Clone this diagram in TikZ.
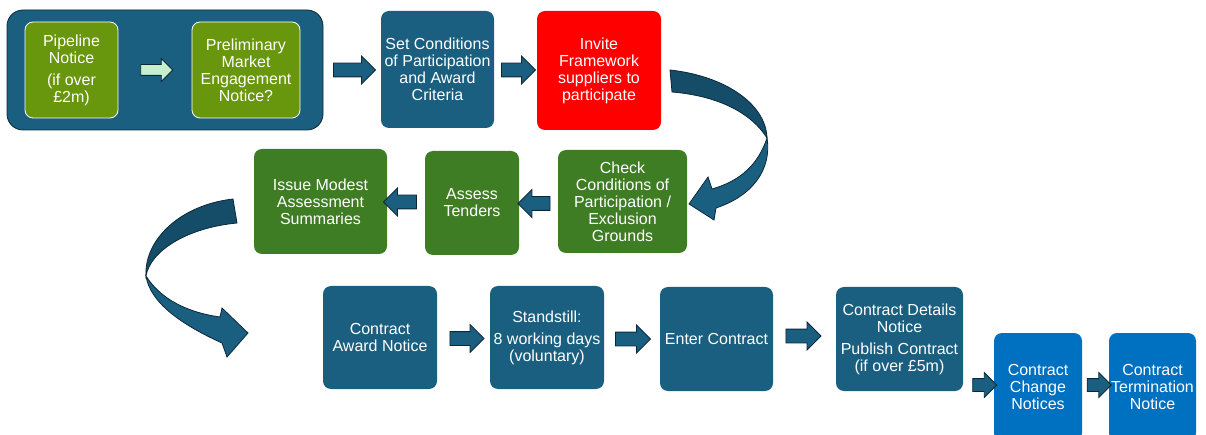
\documentclass[tikz,border=0pt]{standalone}
\usepackage{fontspec}
\setmainfont{Liberation Sans}
\usetikzlibrary{shapes.arrows,positioning}

\definecolor{procblue}{RGB}{26,95,128}
\definecolor{procdark}{RGB}{21,77,105}
\definecolor{procline}{RGB}{12,40,56}
\definecolor{olivegreen}{RGB}{104,150,12}
\definecolor{leafgreen}{RGB}{62,125,35}
\definecolor{brightblue}{RGB}{0,112,192}
\definecolor{mintarr}{RGB}{198,239,206}

\tikzset{
    stepbox/.style={rectangle, rounded corners=8pt, fill=procblue, text=white,
        align=center, inner sep=2pt, font=\fontsize{16}{17}\selectfont},
    blockarr/.style={single arrow, draw=procline, fill=procblue, thick,
        inner xsep=0pt, inner ysep=6.5pt, single arrow head extend=7pt,
        minimum height=34pt},
    leftarr/.style={blockarr, shape border rotate=180},
}

\begin{document}
\begin{tikzpicture}[x=1pt, y=-1pt]
    \useasboundingbox (0,0) rectangle (1206,435);

    % first group
    \node[rectangle, rounded corners=16pt, fill=procblue, draw=procline, thick,
        minimum width=316pt, minimum height=120pt] (frame) at (165,70) {};
    \node[stepbox, fill=olivegreen, draw=white, thick,
        minimum width=93pt, minimum height=96pt] (pipe) at (71.5,70)
        {Pipeline\\Notice\\[5pt](if over\\£2m)};
    \node[stepbox, fill=olivegreen, draw=white, thick,
        minimum width=108pt, minimum height=96pt] (prelim) at (246,70)
        {Preliminary\\Market\\Engagement\\Notice?};
    \node[blockarr, fill=mintarr, inner ysep=5pt, single arrow head extend=6pt,
        minimum height=32pt] (a1) at (154,70) {};

    \node[stepbox, minimum width=113pt, minimum height=117pt] (setcond) at (437.5,69.5)
        {Set Conditions\\of Participation\\and Award\\Criteria};
    \node[stepbox, fill=red, minimum width=124pt, minimum height=119pt] (invite) at (599,70.5)
        {Invite\\Framework\\suppliers to\\participate};
    \node[blockarr, minimum height=42pt] (a2) at (351,70) {};
    \node[blockarr] (a3) at (515,70) {};

    % second row
    \node[stepbox, fill=leafgreen, minimum width=129pt, minimum height=103pt] (check) at (622.5,201.5)
        {Check\\Conditions of\\Participation /\\Exclusion\\Grounds};
    \node[stepbox, fill=leafgreen, minimum width=94pt, minimum height=104pt] (assess) at (472,203)
        {Assess\\Tenders};
    \node[stepbox, fill=leafgreen, minimum width=133pt, minimum height=105pt] (issue) at (320.5,201.5)
        {Issue Modest\\Assessment\\Summaries};
    \node[leftarr, minimum height=32pt] (a4) at (537.5,203.5) {};
    \node[leftarr, minimum height=33pt] (a5) at (403.5,202) {};

    % third row
    \node[stepbox, minimum width=114pt, minimum height=103pt] (award) at (380,337.5)
        {Contract\\Award Notice};
    \node[stepbox, minimum width=114pt, minimum height=103pt] (standstill) at (547,337.5)
        {Standstill:\\[5pt]8 working days\\(voluntary)};
    \node[stepbox, minimum width=113pt, minimum height=104pt] (enter) at (716.5,339)
        {Enter Contract};
    \node[stepbox, minimum width=127pt, minimum height=104pt] (details) at (899.5,339)
        {Contract Details\\Notice\\[5pt]Publish Contract\\(if over £5m)};
    \node[stepbox, fill=brightblue, minimum width=88pt, minimum height=108pt] (change) at (1038,387)
        {Contract\\Change\\Notices};
    \node[stepbox, fill=brightblue, minimum width=87pt, minimum height=108pt] (termination) at (1152.5,387)
        {Contract\\Termination\\Notice};
    \node[blockarr] (a6) at (463.5,338.5) {};
    \node[blockarr, minimum height=35pt] (a7) at (629.5,339) {};
    \node[blockarr, minimum height=35pt] (a8) at (800,336) {};
    \node[blockarr, minimum height=24pt, inner ysep=6pt, single arrow head extend=6pt] (a9) at (981.5,385) {};
    \node[blockarr, minimum height=24pt, inner ysep=6pt, single arrow head extend=6pt] (a10) at (1096,385) {};

    % curved arrows
    \filldraw[fill=procdark, draw=procline, thick]
        (670,70) .. controls (725,76) and (766,104) .. (767,138)
        .. controls (752,114) and (720,96) .. (672,92) -- cycle;
    \filldraw[fill=procblue, draw=procline, thick]
        (767,138) .. controls (772,170) and (752,196) .. (716,208)
        -- (714,220) -- (689,204) -- (708,177) -- (712,189)
        .. controls (740,181) and (758,165) .. (767,138) -- cycle;

    \filldraw[fill=procdark, draw=procline, thick]
        (233,199) .. controls (180,205) and (144,240) .. (146,276)
        .. controls (150,252) and (185,228) .. (237,223) -- cycle;
    \filldraw[fill=procblue, draw=procline, thick]
        (146,276) .. controls (150,302) and (180,324) .. (222,343)
        -- (227,357) -- (248,333) -- (222,308) -- (220,317)
        .. controls (185,312) and (160,298) .. (146,276) -- cycle;
\end{tikzpicture}
\end{document}
